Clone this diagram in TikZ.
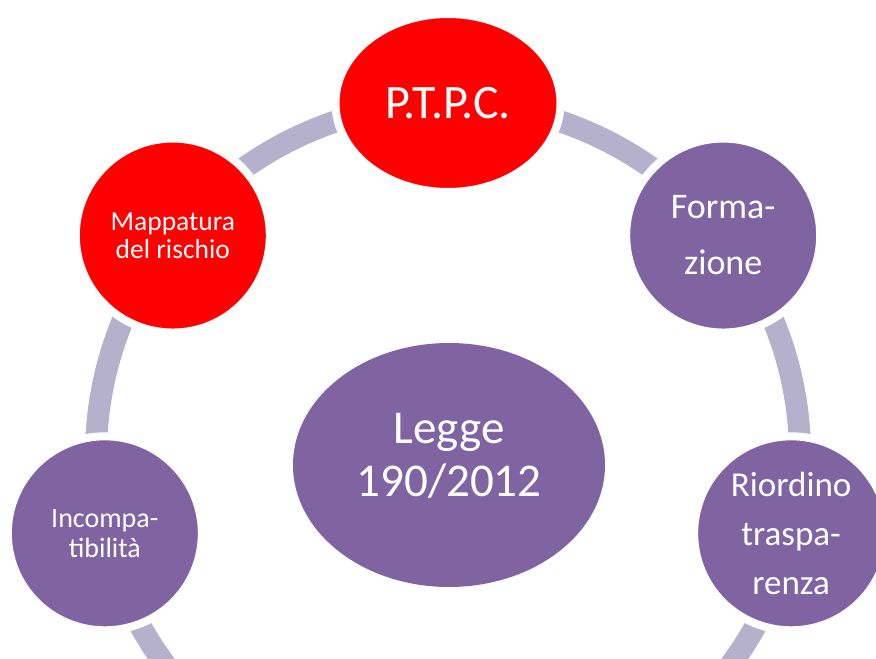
\documentclass[tikz,border=0pt]{standalone}
\usepackage{fontspec}
\setmainfont{Carlito}
\usetikzlibrary{shapes.geometric,backgrounds,calc}
\definecolor{ptred}{RGB}{255,0,0}
\definecolor{ptpurple}{RGB}{128,100,162}
\definecolor{ptring}{RGB}{181,177,205}
\begin{document}
\begin{tikzpicture}[x=1pt,y=1pt,
  bubble/.style={circle, draw=white, line width=8pt, minimum size=194pt, inner sep=0pt, text=white, align=center},
  redbubble/.style={bubble, fill=ptred},
  purplebubble/.style={bubble, fill=ptpurple},
  ringseg/.style={draw=ptring, line width=22pt}]
\useasboundingbox (0,0) rectangle (876,659);
\coordinate (ringc) at (448,204);
% top ellipse
\node[ellipse, draw=white, line width=8pt, fill=ptred, minimum width=225pt, minimum height=178pt, inner sep=0pt, text=white,
      font=\fontsize{48}{56}\selectfont] (ptpc) at ($(ringc)+(90:352)$) {P.T.P.C.};
\node[purplebubble, font=\fontsize{36}{56}\selectfont] (form) at ($(ringc)+(38.571:352)$) {Forma-\\zione};
\node[purplebubble, font=\fontsize{35}{49}\selectfont] (riord) at ($(ringc)+(-12.857:352)$) {Riordino\\traspa-\\renza};
\node[purplebubble, font=\fontsize{28}{30}\selectfont] (incomp) at ($(ringc)+(192.857:352)$) {Incompa-\\tibilità};
\node[redbubble, font=\fontsize{27.5}{28}\selectfont] (mapp) at ($(ringc)+(141.429:352)$) {Mappatura\\del rischio};
% central ellipse
\node[ellipse, fill=ptpurple, minimum width=312pt, minimum height=244pt, inner sep=0pt] (legge) at (449,194) {};
\node[text=white, align=center, font=\fontsize{47}{53}\selectfont, inner sep=0pt] (leggetext) at (449,203) {Legge\\190/2012};
\begin{scope}[on background layer]
  \fill[white] (0,0) rectangle (876,659);
  \draw[ringseg] (ptpc.center) arc[start angle=90, end angle=38.571, radius=352];
  \draw[ringseg] (form.center) arc[start angle=38.571, end angle=-12.857, radius=352];
  \draw[ringseg] (riord.center) arc[start angle=-12.857, end angle=-64.286, radius=352];
  \draw[ringseg] (incomp.center) arc[start angle=192.857, end angle=244.286, radius=352];
  \draw[ringseg] (incomp.center) arc[start angle=192.857, end angle=141.429, radius=352];
  \draw[ringseg] (mapp.center) arc[start angle=141.429, end angle=90, radius=352];
\end{scope}
\end{tikzpicture}
\end{document}
